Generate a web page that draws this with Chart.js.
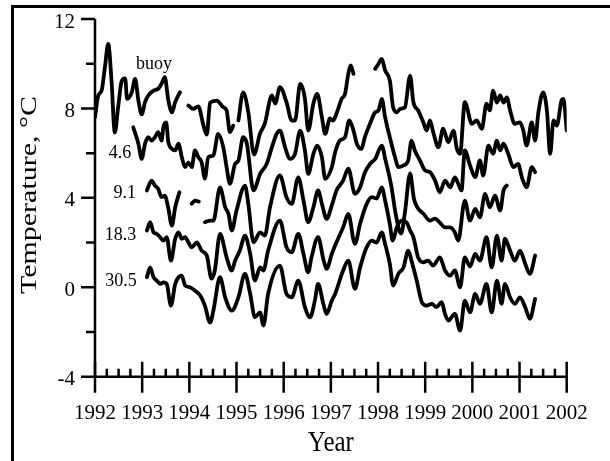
<!DOCTYPE html>
<html>
<head>
<meta charset="utf-8">
<script src="https://cdn.jsdelivr.net/npm/chart.js@4.4.1/dist/chart.umd.min.js"></script>
<style>
  html, body { margin: 0; padding: 0; background: #fff; }
  canvas { display: block; }
</style>
</head>
<body>
<canvas id="c" width="610" height="461"></canvas>
<script>
// Axis ticks
const yearTicks = [1992, 1993, 1994, 1995, 1996, 1997, 1998, 1999, 2000, 2001, 2002];
const tempTicks = [-4, 0, 4, 8, 12];

// Series names (buoy surface record and mooring depths in m)
const seriesNames = ['buoy', '4.6', '9.1', '18.3', '30.5'];

// Buoy (null = no record)
const buoyYear = [1992.00,1992.07,1992.14,1992.21,1992.28,1992.35,1992.42,1992.49,1992.57,1992.64,1992.68,1992.78,1992.85,1992.92,1992.99,1993.06,1993.13,1993.24,1993.34,1993.41,1993.48,1993.55,1993.63,1993.70,1993.80,1993.89,1993.98,1994.08,1994.19,1994.30,1994.37,1994.44,1994.58,1994.72,1994.79,1994.86,1994.93,1994.98,1995.04,1995.14,1995.25,1995.37,1995.50,1995.60,1995.75,1995.82,1995.92,1996.06,1996.17,1996.24,1996.35,1996.45,1996.52,1996.63,1996.71,1996.81,1996.88,1996.98,1997.05,1997.12,1997.23,1997.30,1997.37,1997.42,1997.48,1997.70,1997.94,1998.01,1998.08,1998.15,1998.25,1998.32,1998.40,1998.47,1998.57,1998.68,1998.75,1998.85,1998.96,1999.03,1999.10,1999.17,1999.28,1999.38,1999.49,1999.60,1999.67,1999.74,1999.84,1999.99,2000.09,2000.20,2000.30,2000.37,2000.44,2000.52,2000.59,2000.66,2000.73,2000.80,2000.90,2001.01,2001.08,2001.15,2001.26,2001.33,2001.40,2001.50,2001.58,2001.65,2001.72,2001.79,2001.89,2001.93,2002.00];
const buoyTemp = [7.61,8.58,8.80,9.84,10.89,9.25,6.92,8.05,9.25,9.34,8.43,8.72,9.32,8.35,7.73,8.28,8.58,8.80,8.88,9.10,9.40,8.43,7.82,8.28,8.72,null,8.13,7.98,8.09,7.23,6.83,8.26,8.35,8.05,7.91,6.94,7.23,null,7.46,8.72,7.83,5.94,6.88,7.32,8.58,8.22,8.95,8.28,7.46,7.46,9.10,8.44,7.01,8.22,8.65,7.61,6.86,7.55,7.46,7.77,8.43,8.65,9.55,9.92,9.55,null,9.77,10.00,10.22,9.70,9.25,8.05,7.83,7.98,8.05,9.47,8.28,7.91,7.38,7.01,7.46,6.94,6.26,7.09,6.49,7.01,6.21,5.97,8.28,7.31,7.46,7.09,8.21,7.91,8.80,8.26,8.58,8.26,8.49,7.91,7.31,7.38,7.01,6.34,7.38,6.56,7.83,8.72,7.91,5.97,7.46,7.23,8.35,8.43,7.01];

// 4.6 m
const year46 = [1992.81,1992.92,1992.99,1993.06,1993.13,1993.20,1993.27,1993.34,1993.41,1993.45,1993.51,1993.55,1993.63,1993.70,1993.77,1993.84,1993.91,1993.98,1994.05,1994.12,1994.19,1994.26,1994.33,1994.40,1994.51,1994.61,1994.72,1994.79,1994.86,1994.97,1995.04,1995.14,1995.22,1995.36,1995.50,1995.64,1995.75,1995.85,1995.92,1996.03,1996.13,1996.24,1996.35,1996.45,1996.52,1996.63,1996.71,1996.81,1996.88,1997.02,1997.09,1997.19,1997.30,1997.39,1997.48,1997.55,1997.65,1997.72,1997.83,1997.94,1998.01,1998.08,1998.15,1998.25,1998.36,1998.43,1998.54,1998.64,1998.71,1998.78,1998.89,1999.00,1999.10,1999.21,1999.31,1999.42,1999.53,1999.63,1999.70,1999.77,1999.84,1999.95,2000.06,2000.16,2000.23,2000.34,2000.44,2000.52,2000.59,2000.66,2000.76,2000.87,2000.97,2001.05,2001.15,2001.26,2001.33];
const temp46 = [7.16,6.42,5.74,6.42,6.71,6.56,6.71,6.94,6.56,7.16,7.37,6.56,6.19,6.12,6.42,5.82,5.37,5.59,5.37,6.12,5.82,5.59,4.86,5.82,5.89,6.86,6.26,5.37,4.63,5.52,5.67,6.71,6.42,4.33,5.07,5.52,6.26,6.86,7.01,6.26,5.74,5.97,7.01,6.12,5.07,5.97,6.34,5.82,4.85,5.37,6.03,6.56,6.71,7.46,7.01,6.42,6.19,6.71,7.31,7.83,7.91,8.43,7.61,6.71,5.82,5.37,5.45,5.67,6.56,6.12,5.67,5.22,5.15,4.77,4.25,4.77,4.47,4.92,4.63,4.33,6.12,5.45,4.92,5.67,5.00,6.34,5.97,6.56,6.12,6.42,5.97,5.37,5.52,4.92,4.47,5.37,5.15];

// 9.1 m (null = no record)
const year91 = [1993.10,1993.20,1993.27,1993.34,1993.41,1993.48,1993.55,1993.63,1993.70,1993.79,1993.92,1994.05,1994.12,1994.20,1994.27,1994.33,1994.44,1994.51,1994.65,1994.76,1994.83,1994.90,1995.00,1995.18,1995.25,1995.36,1995.50,1995.60,1995.71,1995.92,1996.06,1996.17,1996.31,1996.42,1996.52,1996.63,1996.73,1996.81,1996.91,1997.02,1997.12,1997.26,1997.37,1997.51,1997.62,1997.72,1997.83,1997.94,1998.08,1998.15,1998.28,1998.38,1998.49,1998.57,1998.68,1998.76,1998.85,1998.96,1999.10,1999.21,1999.31,1999.42,1999.53,1999.63,1999.70,1999.84,1999.95,2000.06,2000.16,2000.27,2000.37,2000.48,2000.59,2000.66,2000.73];
const temp91 = [4.33,4.77,4.55,4.40,4.03,4.10,3.58,2.76,3.58,4.25,null,3.74,3.88,3.83,null,2.91,2.98,2.98,4.47,3.58,3.28,2.54,3.43,4.55,3.73,2.01,2.46,2.31,3.58,5.00,4.03,3.73,4.92,3.88,2.91,3.58,4.33,3.73,3.06,3.66,4.33,4.77,5.31,4.18,4.47,5.13,5.52,5.74,6.34,5.76,4.55,3.21,2.40,3.34,5.09,3.97,3.52,3.30,2.98,3.07,2.89,2.68,2.68,2.45,2.09,3.88,2.98,3.51,3.13,4.18,3.58,4.10,3.43,4.33,4.55];

// 18.3 m
const year183 = [1993.10,1993.17,1993.24,1993.31,1993.38,1993.45,1993.52,1993.61,1993.70,1993.77,1993.84,1993.91,1993.98,1994.05,1994.16,1994.26,1994.37,1994.47,1994.54,1994.65,1994.79,1994.90,1994.97,1995.07,1995.18,1995.29,1995.39,1995.50,1995.57,1995.67,1995.92,1996.06,1996.17,1996.31,1996.42,1996.52,1996.59,1996.73,1996.84,1996.91,1997.02,1997.09,1997.26,1997.37,1997.51,1997.62,1997.76,1997.87,1997.97,1998.08,1998.15,1998.25,1998.31,1998.40,1998.50,1998.61,1998.68,1998.75,1998.85,1998.96,1999.06,1999.17,1999.31,1999.42,1999.53,1999.63,1999.74,1999.84,1999.95,2000.06,2000.16,2000.30,2000.41,2000.52,2000.62,2000.69,2000.80,2000.90,2001.01,2001.12,2001.22,2001.33];
const temp183 = [2.54,2.91,2.46,2.39,2.24,2.09,2.24,1.19,2.17,2.46,2.17,2.24,2.01,1.79,2.01,1.64,1.42,0.39,0.75,2.39,1.34,0.75,1.19,1.64,2.31,1.49,0.30,0.89,0.75,1.64,2.98,1.79,1.57,2.39,1.49,0.67,1.34,2.24,1.27,0.82,1.49,1.87,2.68,3.28,1.94,2.84,3.73,4.03,3.97,4.47,3.88,2.84,2.09,2.68,2.98,2.89,2.54,2.24,1.34,1.12,1.19,0.97,1.34,0.75,0.52,0.75,0.00,1.34,0.93,1.49,1.19,2.24,0.89,2.31,1.19,2.17,1.64,1.19,1.64,1.05,0.60,1.42];

// 30.5 m
const year305 = [1993.10,1993.17,1993.24,1993.31,1993.38,1993.45,1993.52,1993.61,1993.70,1993.77,1993.84,1993.91,1994.01,1994.12,1994.23,1994.33,1994.44,1994.51,1994.65,1994.76,1994.90,1995.04,1995.18,1995.29,1995.39,1995.50,1995.57,1995.67,1995.92,1996.06,1996.17,1996.31,1996.45,1996.56,1996.66,1996.73,1996.84,1996.91,1997.02,1997.09,1997.26,1997.37,1997.51,1997.62,1997.76,1997.87,1997.97,1998.08,1998.15,1998.25,1998.32,1998.43,1998.54,1998.64,1998.71,1998.82,1998.93,1999.03,1999.14,1999.24,1999.35,1999.42,1999.49,1999.63,1999.74,1999.84,1999.95,2000.06,2000.16,2000.30,2000.41,2000.52,2000.62,2000.69,2000.80,2000.90,2001.01,2001.12,2001.22,2001.33];
const temp305 = [0.45,0.89,0.45,0.30,0.15,0.22,0.15,-0.82,0.15,0.45,0.52,0.08,0.00,-0.15,-0.37,-0.82,-1.58,-1.04,0.45,-0.45,-1.04,-0.45,0.60,-0.30,-1.34,-1.12,-1.71,-0.30,0.97,-0.30,-0.45,0.30,-0.89,-1.34,-0.60,0.15,-0.74,-1.19,-0.60,-0.30,0.75,1.19,-0.07,0.89,1.79,2.09,2.00,2.46,1.94,1.05,0.08,0.60,0.89,1.64,1.19,0.30,-0.67,-0.82,-0.74,-0.89,-0.67,-1.19,-1.49,-1.19,-1.94,-0.60,-1.12,-0.30,-0.74,0.15,-1.12,0.30,-0.74,0.15,-0.45,-0.74,-0.45,-0.89,-1.41,-0.52];

const seriesYears = [buoyYear, year46, year91, year183, year305];
const seriesTemps = [buoyTemp, temp46, temp91, temp183, temp305];

const SERIF = '"Liberation Serif", "Times New Roman", serif';

// Axes, ticks, frame and text labels, placed through the chart's scales
const axesPlugin = {
  id: 'axesPlugin',
  beforeDatasetsDraw(chart) {
    const { ctx, scales: { x, y } } = chart;
    const xL = x.getPixelForValue(yearTicks[0]);
    const xR = x.getPixelForValue(yearTicks[yearTicks.length - 1]);
    const yB = y.getPixelForValue(tempTicks[0]);
    const yT = y.getPixelForValue(tempTicks[tempTicks.length - 1]);
    ctx.save();
    ctx.strokeStyle = '#000';
    ctx.lineCap = 'butt';

    // outer frame
    ctx.lineWidth = 3;
    ctx.beginPath();
    ctx.moveTo(11, 6.5); ctx.lineTo(610, 6.5);
    ctx.moveTo(12.5, 5); ctx.lineTo(12.5, 461);
    ctx.stroke();

    // axis lines
    ctx.lineWidth = 2.5;
    ctx.beginPath();
    ctx.moveTo(xL, yT); ctx.lineTo(xL, yB); ctx.lineTo(xR, yB);
    ctx.stroke();

    // y ticks: labelled every 4, minor halfway
    ctx.beginPath();
    tempTicks.forEach((v, i) => {
      const py = y.getPixelForValue(v);
      ctx.moveTo(xL - 14, py); ctx.lineTo(xL, py);
      if (i < tempTicks.length - 1) {
        const pm = y.getPixelForValue((v + tempTicks[i + 1]) / 2);
        ctx.moveTo(xL - 9, pm); ctx.lineTo(xL, pm);
      }
    });
    // x ticks: years crossing the axis, quarters above it
    yearTicks.forEach((yr, i) => {
      const px = x.getPixelForValue(yr);
      ctx.moveTo(px, yB - 15); ctx.lineTo(px, yB + 16);
      if (i < yearTicks.length - 1) {
        for (let q = 1; q < 4; q++) {
          const pq = x.getPixelForValue(yr + q / 4);
          ctx.moveTo(pq, yB - 8); ctx.lineTo(pq, yB);
        }
      }
    });
    ctx.stroke();
    ctx.restore();
  },
  afterDraw(chart) {
    const { ctx, scales: { x, y } } = chart;
    ctx.save();
    ctx.fillStyle = '#000';

    // y tick labels
    ctx.font = '21px ' + SERIF;
    ctx.textAlign = 'right';
    ctx.textBaseline = 'alphabetic';
    tempTicks.forEach(v => {
      ctx.fillText(String(v), 75, y.getPixelForValue(v) + 8.5);
    });

    // x tick labels
    ctx.textAlign = 'center';
    yearTicks.forEach(yr => {
      ctx.fillText(String(yr), x.getPixelForValue(yr), 419);
    });

    // axis titles (set in a slightly narrowed serif)
    ctx.save();
    ctx.translate((chart.chartArea.left + chart.chartArea.right) / 2, 451);
    ctx.scale(0.86, 1);
    ctx.font = '29px ' + SERIF;
    ctx.fillText('Year', 0, 0);
    ctx.restore();

    ctx.save();
    ctx.translate(36, 195);
    ctx.scale(0.8, 1);
    ctx.rotate(-Math.PI / 2);
    ctx.font = '30px ' + SERIF;
    ctx.textAlign = 'center';
    ctx.textBaseline = 'alphabetic';
    ctx.fillText('Temperature, \u00B0C', 0, 0);
    ctx.restore();

    // series names beside the start of each record
    const nameYear = [1993.25, 1992.53, 1992.63, 1992.54, 1992.55];
    const nameTemp = [9.96, 6.0, 4.21, 2.31, 0.26];
    ctx.font = '18px ' + SERIF;
    ctx.textAlign = 'center';
    ctx.textBaseline = 'middle';
    seriesNames.forEach((n, i) => {
      ctx.fillText(n, x.getPixelForValue(nameYear[i]), y.getPixelForValue(nameTemp[i]));
    });
    ctx.restore();
  }
};

new Chart(document.getElementById('c'), {
  type: 'line',
  data: {
    datasets: seriesNames.map((name, s) => ({
      label: name,
      data: seriesYears[s].map((yr, i) => ({ x: yr, y: seriesTemps[s][i] })),
      borderColor: '#000',
      borderWidth: 3.8,
      pointRadius: 0,
      cubicInterpolationMode: 'monotone',
      borderJoinStyle: 'round',
      borderCapStyle: 'round',
      spanGaps: false,
      fill: false
    }))
  },
  options: {
    responsive: false,
    animation: false,
    devicePixelRatio: 1,
    layout: { padding: { left: 95, top: 19, right: 43.3, bottom: 84.3 } },
    scales: {
      x: { type: 'linear', min: 1992, max: 2002, display: false },
      y: { type: 'linear', min: -4, max: 12, display: false }
    },
    plugins: { legend: { display: false }, tooltip: { enabled: false } }
  },
  plugins: [axesPlugin]
});
</script>
</body>
</html>
